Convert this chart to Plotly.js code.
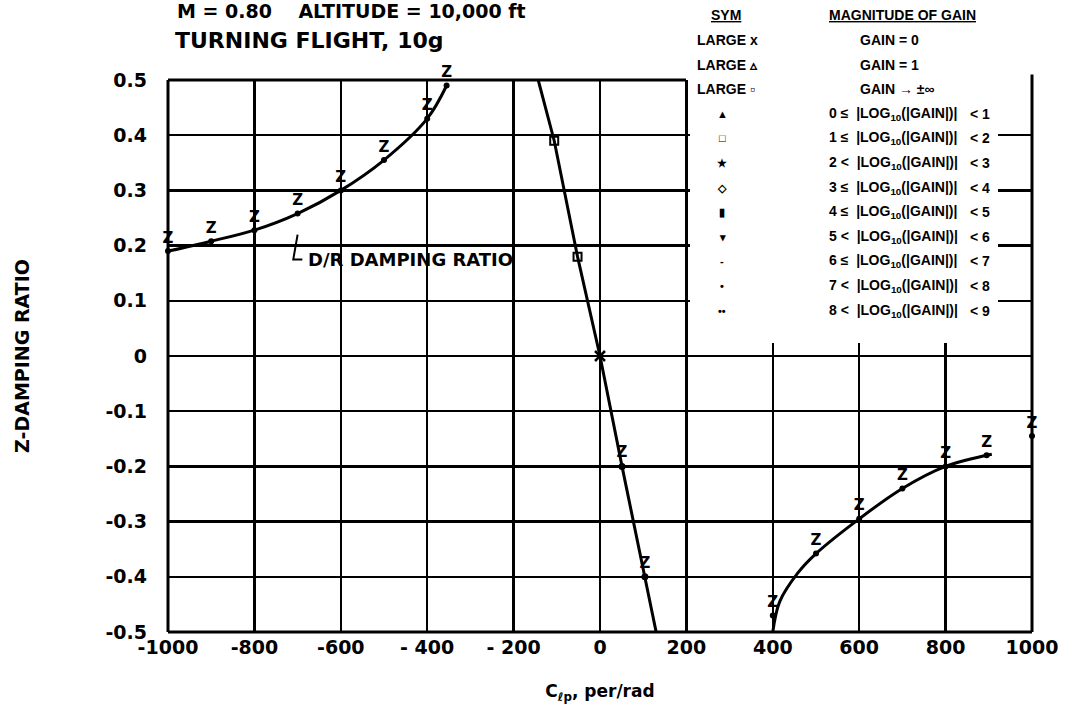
<!DOCTYPE html>
<html>
<head>
<meta charset="utf-8">
<script src="https://cdn.plot.ly/plotly-3.0.1.min.js"></script>
<style>html,body{margin:0;padding:0;background:#fff;}#chart{width:1080px;height:725px;}</style>
</head>
<body>
<div id="chart"></div>
<script>
// ---- data ----
const xTickVals = [-1000, -800, -600, -400, -200, 0, 200, 400, 600, 800, 1000];
const xTickText = ["-1000", "-800", "-600", "- 400", "- 200", "0", "200", "400", "600", "800", "1000"];
const yTickVals = [0.5, 0.4, 0.3, 0.2, 0.1, 0, -0.1, -0.2, -0.3, -0.4, -0.5];
const yTickText = ["0.5", "0.4", "0.3", "0.2", "0.1", "0", "-0.1", "-0.2", "-0.3", "-0.4", "-0.5"];

// D/R damping ratio branch (left)
const drX = [-1000, -900, -800, -700, -600, -500, -400, -355];
const drY = [0.19, 0.208, 0.228, 0.258, 0.30, 0.355, 0.43, 0.49];

// steep branch through zero
const steepX = [-143, -106, -52, 0, 51, 104, 130];
const steepY = [0.5, 0.39, 0.18, 0, -0.2, -0.4, -0.5];
const squareX = [-106, -52];
const squareY = [0.39, 0.18];
const crossX = [0];
const crossY = [0];
const steepZX = [51, 104];
const steepZY = [-0.2, -0.4];

// right branch
const rightX = [400, 416, 458, 500, 600, 700, 800, 907];
const rightY = [-0.5, -0.445, -0.393, -0.358, -0.295, -0.24, -0.2, -0.178];
const rightZX = [400, 500, 600, 700, 800, 895, 1000];
const rightZY = [-0.47, -0.358, -0.295, -0.24, -0.2, -0.18, -0.145];

// legend table
const symLabels = ["LARGE x", "LARGE ▵", "LARGE ▫", "▲", "□", "★", "◇", "▮", "▾", "-", "•", "••"];
const gainLabels = ["GAIN = 0", "GAIN = 1", "GAIN → ±∞",
  "0 ≤  |LOG<sub>10</sub>(|GAIN|)|", "1 ≤  |LOG<sub>10</sub>(|GAIN|)|", "2 <  |LOG<sub>10</sub>(|GAIN|)|",
  "3 ≤  |LOG<sub>10</sub>(|GAIN|)|", "4 ≤  |LOG<sub>10</sub>(|GAIN|)|", "5 <  |LOG<sub>10</sub>(|GAIN|)|",
  "6 ≤  |LOG<sub>10</sub>(|GAIN|)|", "7 <  |LOG<sub>10</sub>(|GAIN|)|", "8 <  |LOG<sub>10</sub>(|GAIN|)|"];
const gainBounds = ["", "", "", "< 1", "< 2", "< 3", "< 4", "< 5", "< 6", "< 7", "< 8", "< 9"];

// ---- layout helpers ----
const W = 1080, H = 725;
const M = {l: 168, r: 48, t: 80, b: 93};
const PW = W - M.l - M.r, PH = H - M.t - M.b;
const px2x = p => (p - M.l) / PW;          // pixel -> paper x
const py2y = p => (H - M.b - p) / PH;      // pixel -> paper y

const BOLD = {family: "DejaVu Sans", color: "#000", weight: "bold"};
const LEG = {family: "Liberation Sans Narrow, Liberation Sans, sans-serif", color: "#000", size: 14, weight: "bold"};
const zFont = {family: "DejaVu Sans", size: 15, color: "#000", weight: "bold"};

const traces = [
  {x: drX, y: drY, mode: "lines+markers+text", type: "scatter", line: {color: "#000", width: 3, shape: "spline"},
   marker: {size: 6, color: "#000"}, text: drX.map(() => "Z"), textposition: "top center", textfont: zFont, cliponaxis: false, hoverinfo: "skip"},
  {x: steepX, y: steepY, mode: "lines", type: "scatter", line: {color: "#000", width: 3}, hoverinfo: "skip"},
  {x: squareX, y: squareY, mode: "markers", type: "scatter", marker: {symbol: "square-open", size: 8, color: "#000", line: {width: 2, color: "#000"}}, hoverinfo: "skip"},
  {x: crossX, y: crossY, mode: "markers", type: "scatter", marker: {symbol: "x-thin-open", size: 10, color: "#000", line: {width: 2.5, color: "#000"}}, hoverinfo: "skip"},
  {x: steepZX, y: steepZY, mode: "markers+text", type: "scatter", marker: {size: 7, color: "#000"},
   text: steepZX.map(() => "Z"), textposition: "top center", textfont: zFont, hoverinfo: "skip"},
  {x: rightX, y: rightY, mode: "lines", type: "scatter", line: {color: "#000", width: 3, shape: "spline"}, hoverinfo: "skip"},
  {x: rightZX, y: rightZY, mode: "markers+text", type: "scatter", marker: {size: 6, color: "#000"},
   text: rightZX.map(() => "Z"), textposition: "top center", textfont: zFont, cliponaxis: false, hoverinfo: "skip"}
];

const annotations = [];
// first title line
annotations.push({xref: "paper", yref: "paper", x: px2x(175), y: py2y(11), xanchor: "left", yanchor: "middle",
  text: "M = 0.80    ALTITUDE = 10,000 ft", showarrow: false, font: Object.assign({size: 19}, BOLD)});
// D/R label
annotations.push({xref: "x", yref: "y", x: -680, y: 0.175, xanchor: "left", yanchor: "middle",
  text: "D/R DAMPING RATIO", showarrow: false, font: Object.assign({size: 18}, BOLD)});
// legend headers
annotations.push({xref: "paper", yref: "paper", x: px2x(726), y: py2y(15), xanchor: "center", yanchor: "middle",
  text: "<u>SYM</u>", showarrow: false, font: LEG});
annotations.push({xref: "paper", yref: "paper", x: px2x(827), y: py2y(15), xanchor: "left", yanchor: "middle",
  text: "<u>MAGNITUDE OF GAIN</u>", showarrow: false, font: LEG});
symLabels.forEach((s, i) => {
  const yy = py2y(40 + i * 24.6);
  annotations.push({xref: "paper", yref: "paper", x: i < 3 ? px2x(695) : px2x(722), y: yy,
    xanchor: i < 3 ? "left" : "center", yanchor: "middle", text: s, showarrow: false,
    font: Object.assign({}, LEG, {size: i < 3 ? 14 : 11})});
  annotations.push({xref: "paper", yref: "paper", x: i < 3 ? px2x(858) : px2x(827), y: yy,
    xanchor: "left", yanchor: "middle", text: gainLabels[i], showarrow: false, font: LEG});
  if (gainBounds[i]) {
    annotations.push({xref: "paper", yref: "paper", x: px2x(968), y: yy, xanchor: "left", yanchor: "middle",
      text: gainBounds[i], showarrow: false, font: LEG});
  }
});

const shapes = [
  // white legend area covering the grid
  {type: "rect", xref: "paper", yref: "paper", layer: "above", x0: px2x(690), x1: px2x(998), y0: py2y(343), y1: 1.3,
   fillcolor: "#fff", line: {width: 0}},
  // borders
  {type: "line", xref: "paper", yref: "paper", layer: "above", x0: 0, x1: 0, y0: 0, y1: 1, line: {color: "#000", width: 3}},
  {type: "line", xref: "paper", yref: "paper", layer: "above", x0: 0, x1: 1, y0: 0, y1: 0, line: {color: "#000", width: 3}},
  {type: "line", xref: "paper", yref: "paper", layer: "above", x0: 1, x1: 1, y0: 0, y1: 1.01, line: {color: "#000", width: 3}},
  {type: "line", xref: "paper", yref: "paper", layer: "above", x0: 0, x1: px2x(686), y0: 1, y1: 1, line: {color: "#000", width: 3}},
  // D/R label leader
  {type: "path", xref: "x", yref: "y", layer: "above", path: "M -700 0.22 L -710 0.175 L -689 0.175", line: {color: "#000", width: 2}}
];

const layout = {
  width: W, height: H, margin: M,
  paper_bgcolor: "#fff", plot_bgcolor: "#fff",
  showlegend: false,
  title: {text: "TURNING FLIGHT, 10g", x: 175 / W, xref: "container", xanchor: "left",
          y: 1 - 40 / H, yref: "container", yanchor: "middle", font: Object.assign({size: 22}, BOLD)},
  xaxis: {range: [-1000, 1000], tickmode: "array", tickvals: xTickVals, ticktext: xTickText,
          showgrid: true, gridcolor: "#000", gridwidth: 2.5, zeroline: false, showline: false, ticks: "",
          tickfont: Object.assign({size: 19}, BOLD), ticklabelstandoff: 2, fixedrange: true,
          title: {text: "C<sub>ℓp</sub>, per/rad", font: Object.assign({size: 17}, BOLD), standoff: 28}},
  yaxis: {range: [-0.5, 0.5], tickmode: "array", tickvals: yTickVals, ticktext: yTickText,
          showgrid: true, gridcolor: "#000", gridwidth: 2.5, zeroline: false, showline: false, ticks: "",
          tickfont: Object.assign({size: 19}, BOLD), ticklabelstandoff: 20, fixedrange: true,
          title: {text: "Z-DAMPING RATIO", font: Object.assign({size: 19}, BOLD), standoff: 70}},
  annotations: annotations,
  shapes: shapes
};

Plotly.newPlot("chart", traces, layout, {staticPlot: true, displayModeBar: false});
</script>
</body>
</html>
